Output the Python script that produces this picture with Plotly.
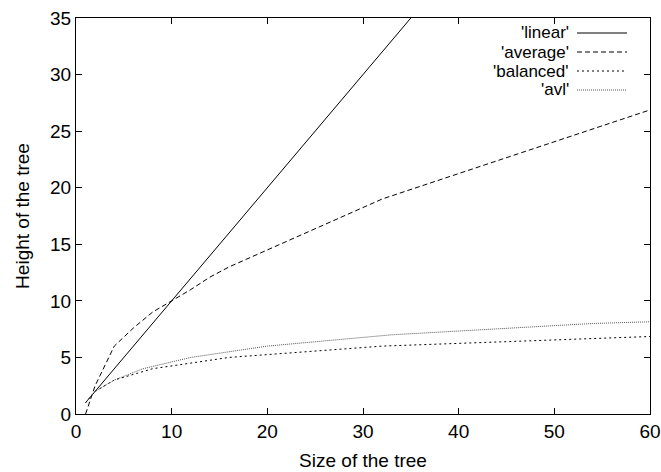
import plotly.graph_objects as go

# Data
linear_x = [1, 60]
linear_y = [1, 60]

average_x = [1, 2, 4, 6, 8, 10, 12, 14, 16, 32, 64]
average_y = [0, 2.5, 6.0, 7.6, 9.0, 10.0, 11.0, 12.1, 13.0, 19.0, 28.0]

balanced_x = [1, 2, 4, 8, 16, 32, 60]
balanced_y = [1, 2, 3, 4, 5, 6, 6.85]

avl_x = [1, 2, 4, 7, 12, 20, 33, 54, 60]
avl_y = [1, 2, 3, 4, 5, 6, 7, 8, 8.15]

names = ["'linear'", "'average'", "'balanced'", "'avl'"]
dashes = ["solid", "5px,3px", "2px,3px", "1px,1px"]
colors = ["black", "black", "black", "#555555"]
series = [(linear_x, linear_y), (average_x, average_y), (balanced_x, balanced_y), (avl_x, avl_y)]

FONT = "Liberation Sans, Arial, Helvetica, sans-serif"
FS = 19
FS_KEY = 17

W, H = 661, 472
L, R, T, B = 76, 11, 18, 58
pw, ph = W - L - R, H - T - B

def px_to_paper(xp, yp):
    return (xp - L) / pw, (H - B - yp) / ph

fig = go.Figure()
for (xs, ys), n, d, c in zip(series, names, dashes, colors):
    fig.add_trace(go.Scatter(x=xs, y=ys, mode="lines", name=n,
                             line=dict(color=c, width=1, dash=d),
                             showlegend=False))

# gnuplot-style key: right-aligned text, sample to its right
leg_y = [33, 52, 71, 90]
for n, d, c, yy in zip(names, dashes, colors, leg_y):
    tx, ty = px_to_paper(570, yy)
    _, lty = px_to_paper(0, yy)
    fig.add_annotation(xref="paper", yref="paper", x=tx, y=ty,
                       text=n, showarrow=False, xanchor="right", yanchor="middle",
                       borderpad=0,
                       font=dict(family=FONT, size=FS_KEY, color="black"))
    x0, _ = px_to_paper(577, yy)
    x1, _ = px_to_paper(627, yy)
    fig.add_shape(type="line", xref="paper", yref="paper",
                  x0=x0, x1=x1, y0=lty, y1=lty,
                  line=dict(color=c, width=1, dash=d))

axis_common = dict(showline=True, linecolor="black", linewidth=1, mirror="ticks",
                   ticks="inside", ticklen=6, tickcolor="black", showgrid=False,
                   zeroline=False, automargin=False,
                   tickfont=dict(family=FONT, size=FS, color="black"))

fig.update_xaxes(range=[0, 60], tickvals=[0, 10, 20, 30, 40, 50, 60],
                 title=dict(text="Size of the tree", font=dict(family=FONT, size=FS, color="black"), standoff=12),
                 **axis_common)
fig.update_yaxes(range=[0, 35], tickvals=[0, 5, 10, 15, 20, 25, 30, 35],
                 title=dict(text="Height of the tree", font=dict(family=FONT, size=FS, color="black"), standoff=15),
                 **axis_common)

fig.update_layout(width=W, height=H, margin=dict(l=L, r=R, t=T, b=B),
                  plot_bgcolor="white", paper_bgcolor="white",
                  font=dict(family=FONT, size=FS, color="black"))

fig.write_html("out.html")
